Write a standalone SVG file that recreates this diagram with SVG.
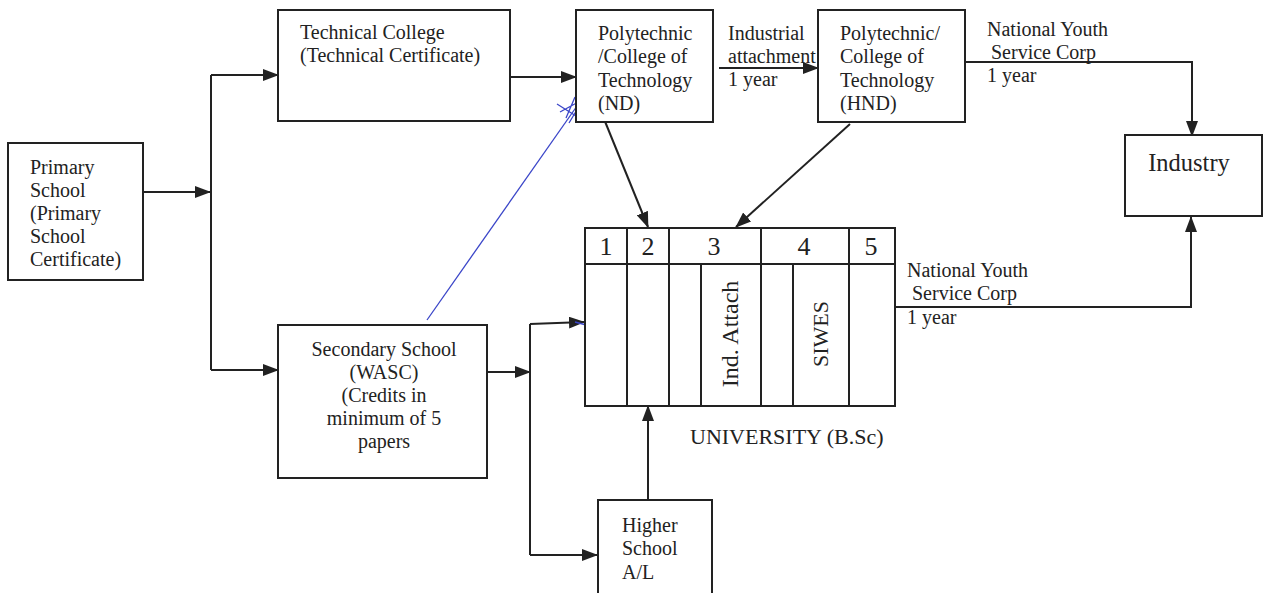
<svg xmlns="http://www.w3.org/2000/svg" width="1268" height="593" viewBox="0 0 1268 593">
<style>
.box{fill:#fff;stroke:#222;stroke-width:2}
.ln{fill:none;stroke:#222;stroke-width:2}
.t{font-family:"Liberation Serif",serif;font-size:20px;fill:#222}
.tc{font-family:"Liberation Serif",serif;font-size:20px;fill:#222;text-anchor:middle}
.num{font-family:"Liberation Serif",serif;font-size:26px;fill:#222;text-anchor:middle}
.rot{font-family:"Liberation Serif",serif;font-size:23px;fill:#222;text-anchor:middle}
</style>
<defs>
<marker id="ah" markerUnits="userSpaceOnUse" markerWidth="16" markerHeight="12" refX="15" refY="6" orient="auto">
<path d="M0,0 L16,6 L0,12 Z" fill="#222"/>
</marker>
</defs>
<rect width="1268" height="593" fill="#fff"/>
<g id="connectors">
<path class="ln" d="M143,192 H210" marker-end="url(#ah)"/>
<path class="ln" d="M211,75 V370"/>
<path class="ln" d="M211,75 H278" marker-end="url(#ah)"/>
<path class="ln" d="M211,370 H278" marker-end="url(#ah)"/>
<path class="ln" d="M510,77 H576" marker-end="url(#ah)"/>
<path class="ln" d="M719,68 H818" marker-end="url(#ah)"/>
<path class="ln" d="M965,62 H1192 V136" marker-end="url(#ah)"/>
<path class="ln" d="M604,119 L648,227" marker-end="url(#ah)"/>
<path class="ln" d="M850,124 L736,227" marker-end="url(#ah)"/>
<path class="ln" d="M895,307 H1191 V217" marker-end="url(#ah)"/>
<path class="ln" d="M487,372 H530" marker-end="url(#ah)"/>
<path class="ln" d="M530,324 V555"/>
<path class="ln" d="M530,324 L584,322" marker-end="url(#ah)"/>
<path class="ln" d="M530,555 H597" marker-end="url(#ah)"/>
<path class="ln" d="M648,500 V406" marker-end="url(#ah)"/>
<text class="t" x="728" y="40">Industrial</text>
<text class="t" x="728" y="63">attachment</text>
<text class="t" x="728" y="86">1 year</text>
<text class="t" x="987" y="36">National Youth</text>
<text class="t" x="991" y="59">Service Corp</text>
<text class="t" x="987" y="82">1 year</text>
<text class="t" x="907" y="277">National Youth</text>
<text class="t" x="912" y="300">Service Corp</text>
<text class="t" x="907" y="324">1 year</text>
</g>
<g id="pen-mark" fill="none" stroke="#3a45c8" stroke-width="1.3">
<path d="M427,320 L577,106"/>
<path d="M557,104 L576,116 M560,112 L582,100 M566,118 L575,97 M569,123 L578,108"/>
<path d="M575,322 L590,326"/>
</g>
<g id="primary">
<rect class="box" x="8" y="143" width="135" height="137"/>
<text class="t" x="30" y="174">Primary</text>
<text class="t" x="30" y="197">School</text>
<text class="t" x="30" y="220">(Primary</text>
<text class="t" x="30" y="243">School</text>
<text class="t" x="30" y="266">Certificate)</text>
</g>
<g id="technical">
<rect class="box" x="278" y="10" width="232" height="111"/>
<text class="t" x="300" y="39">Technical College</text>
<text class="t" x="300" y="62">(Technical Certificate)</text>
</g>
<g id="poly-nd">
<rect class="box" x="576" y="10" width="137" height="112"/>
<text class="t" x="598" y="40">Polytechnic</text>
<text class="t" x="598" y="63">/College of</text>
<text class="t" x="598" y="87">Technology</text>
<text class="t" x="598" y="110">(ND)</text>
</g>
<g id="poly-hnd">
<rect class="box" x="818" y="10" width="147" height="112"/>
<text class="t" x="840" y="40">Polytechnic/</text>
<text class="t" x="840" y="63">College of</text>
<text class="t" x="840" y="87">Technology</text>
<text class="t" x="840" y="110">(HND)</text>
</g>
<g id="industry">
<rect class="box" x="1125" y="135" width="137" height="81"/>
<text class="tc" x="1189" y="171" style="font-size:24.5px">Industry</text>
</g>
<g id="secondary">
<rect class="box" x="278" y="325" width="209" height="153"/>
<text class="tc" x="384" y="356">Secondary School</text>
<text class="tc" x="384" y="379">(WASC)</text>
<text class="tc" x="384" y="402">(Credits in</text>
<text class="tc" x="384" y="425">minimum of 5</text>
<text class="tc" x="384" y="448">papers</text>
</g>
<g id="higher">
<rect class="box" x="598" y="500" width="114" height="100"/>
<text class="t" x="622" y="532">Higher</text>
<text class="t" x="622" y="555">School</text>
<text class="t" x="622" y="579">A/L</text>
</g>
<g id="university">
<rect class="box" x="585" y="228" width="310" height="178"/>
<path class="ln" d="M585,264 H895 M627,228 V406 M669,228 V406 M761,228 V406 M849,228 V406 M701,264 V406 M793,264 V406"/>
<text class="num" x="606" y="255">1</text>
<text class="num" x="648" y="255">2</text>
<text class="num" x="714" y="255">3</text>
<text class="num" x="804" y="255">4</text>
<text class="num" x="871" y="255">5</text>
<text class="rot" transform="translate(738,334) rotate(-90)" style="font-size:24px">Ind. Attach</text>
<text class="rot" transform="translate(828,334) rotate(-90)" style="font-size:22px">SIWES</text>
<text class="t" x="690" y="444" style="font-size:22px">UNIVERSITY (B.Sc)</text>
</g>
</svg>
